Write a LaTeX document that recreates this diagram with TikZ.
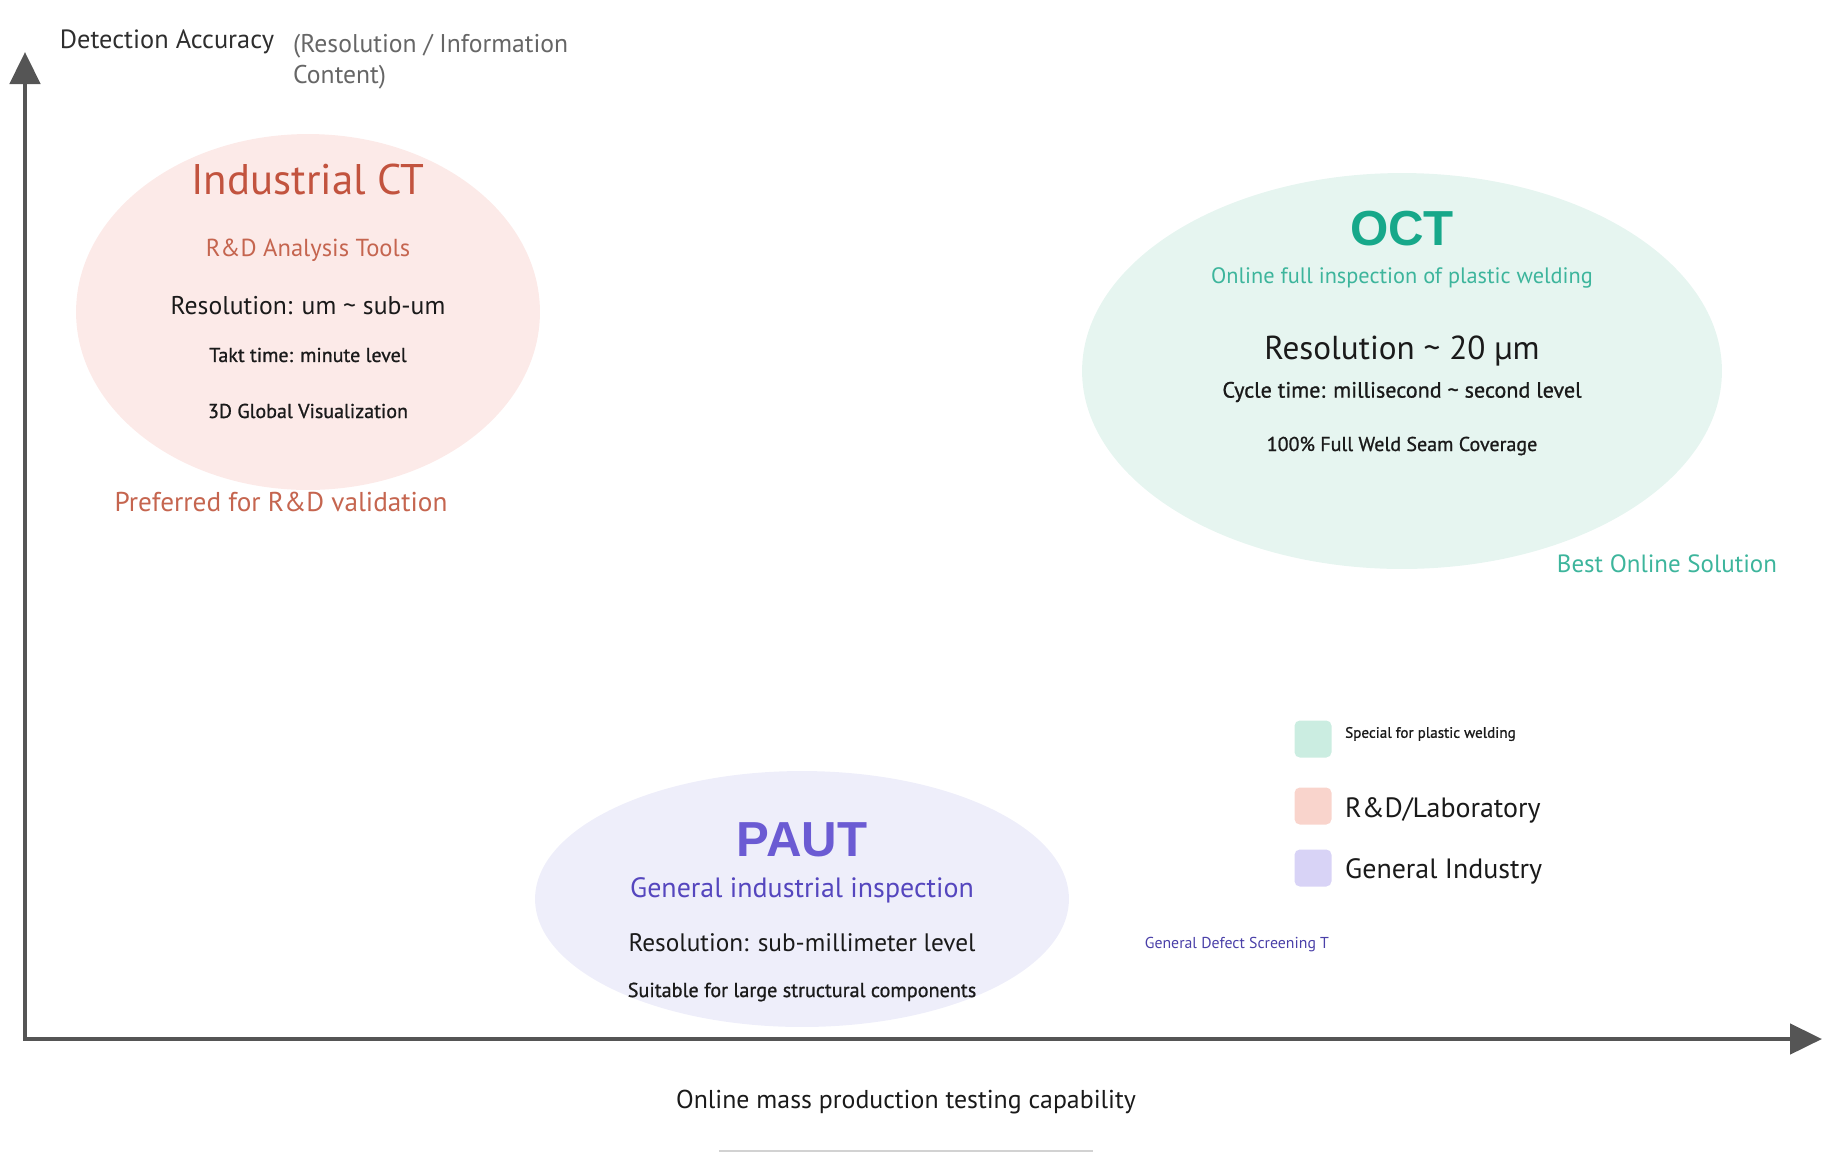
\documentclass[tikz,border=0pt]{standalone}
\usepackage{fontspec}
\setmainfont{PT Sans}
\newfontfamily\headfont{Liberation Sans}
\newfontfamily\semifont[FakeBold=0.9]{PT Sans}
\usetikzlibrary{arrows.meta, positioning, shapes.geometric}
\definecolor{axisGray}{HTML}{555555}
\definecolor{labelDark}{HTML}{2E2E2E}
\definecolor{labelGray}{HTML}{666666}
\definecolor{textDark}{HTML}{1A1A1A}
\definecolor{lineGray}{HTML}{D2D2D2}
\definecolor{ctRed}{HTML}{C2533E}
\definecolor{ctRedLight}{HTML}{C5654F}
\definecolor{ctFill}{HTML}{FCEAE8}
\definecolor{octTeal}{HTML}{17A88A}
\definecolor{octTealLight}{HTML}{3DB59C}
\definecolor{octFill}{HTML}{E6F5F0}
\definecolor{pautPurple}{HTML}{6B5BD3}
\definecolor{pautPurpleDark}{HTML}{5546BE}
\definecolor{pautFill}{HTML}{EEEEFA}
\definecolor{defectBlue}{HTML}{4A40A8}
\definecolor{legMint}{HTML}{CBEDE1}
\definecolor{legSalmon}{HTML}{F9D4CC}
\definecolor{legLavender}{HTML}{D8D3F6}
\tikzset{
  axisLine/.style={{Triangle[width=0.6cm, length=0.64cm]}-{Triangle[width=0.6cm, length=0.64cm]},
                   axisGray, line width=2.7pt},
  blob/.style={ellipse, inner sep=0pt, draw=none},
  techTitle/.style={font=\headfont\bfseries\fontsize{28}{32}\selectfont},
  legendBox/.style={rectangle, rounded corners=3pt, minimum size=0.74cm, inner sep=0pt},
  legendText/.style={text=textDark, inner sep=0pt},
}

\begin{document}
\begin{tikzpicture}[x=0.02cm, y=-0.02cm, font=\fontsize{14}{17}\selectfont]
    \useasboundingbox (0,0) rectangle (1831,1164);

    % Ejes
    \coordinate (origin) at (25,1039);
    \coordinate (yTop) at (25,52);
    \coordinate (xEnd) at (1822,1039);
    \draw[axisLine] (yTop) -- (origin) -- (xEnd);
    \node[text=labelDark, font=\fontsize{15}{18}\selectfont] (yLabel) at (167,42) {Detection Accuracy};
    \node[anchor=west, align=left, text=labelGray, font=\fontsize{14.6}{17.5}\selectfont] (yNote)
         at (287,62) {(Resolution / Information\\Content)};
    \node[text=textDark, font=\fontsize{14.7}{17}\selectfont] (xLabel) at (906,1102)
         {Online mass production testing capability};
    \draw[lineGray, line width=1.6pt] (719,1151) -- (1093,1151);

    % Industrial CT
    \node[blob, fill=ctFill, minimum width=9.28cm, minimum height=7.12cm] (ct) at (308,312) {};
    \node[font=\fontsize{24.4}{28}\selectfont, text=ctRed] (ctTitle) at ([yshift=2.66cm]ct.center) {Industrial CT};
    \node[font=\fontsize{14}{16}\selectfont, text=ctRedLight] at ([yshift=1.24cm]ct.center) {R\&D Analysis Tools};
    \node[font=\fontsize{14.6}{18}\selectfont, text=textDark] at ([yshift=0.12cm]ct.center) {Resolution: um \textasciitilde{} sub-um};
    \node[font=\semifont\fontsize{11.4}{14}\selectfont, text=textDark] at ([yshift=-0.86cm]ct.center) {Takt time: minute level};
    \node[font=\semifont\fontsize{11.4}{14}\selectfont, text=textDark] at ([yshift=-1.98cm]ct.center) {3D Global Visualization};
    \node[font=\fontsize{15.5}{18}\selectfont, text=ctRedLight] (ctNote)
         at ([xshift=-0.54cm, yshift=-3.8cm]ct.center) {Preferred for R\&D validation};

    % OCT
    \node[blob, fill=octFill, minimum width=12.8cm, minimum height=7.92cm] (oct) at (1402,371) {};
    \node[techTitle, text=octTeal] (octTitle) at ([yshift=2.84cm]oct.center) {OCT};
    \node[font=\fontsize{12.7}{15}\selectfont, text=octTealLight] at ([yshift=1.86cm]oct.center)
         {Online full inspection of plastic welding};
    \node[font=\fontsize{18.9}{22}\selectfont, text=textDark] at ([yshift=0.4cm]oct.center) {Resolution \textasciitilde{} 20 µm};
    \node[font=\semifont\fontsize{12.6}{16}\selectfont, text=textDark] at ([yshift=-0.42cm]oct.center)
         {Cycle time: millisecond \textasciitilde{} second level};
    \node[font=\semifont\fontsize{11.4}{14}\selectfont, text=textDark] at ([yshift=-1.5cm]oct.center)
         {100\% Full Weld Seam Coverage};
    \node[font=\fontsize{14.2}{17}\selectfont, text=octTealLight] (octNote)
         at ([xshift=5.3cm, yshift=-3.86cm]oct.center) {Best Online Solution};

    % PAUT
    \node[blob, fill=pautFill, minimum width=10.68cm, minimum height=5.12cm] (paut) at (802,899) {};
    \node[techTitle, text=pautPurple] (pautTitle) at ([yshift=1.18cm]paut.center) {PAUT};
    \node[font=\fontsize{15.9}{18}\selectfont, text=pautPurpleDark] at ([yshift=0.18cm]paut.center)
         {General industrial inspection};
    \node[font=\fontsize{14.4}{17}\selectfont, text=textDark] at ([yshift=-0.88cm]paut.center)
         {Resolution: sub-millimeter level};
    \node[font=\semifont\fontsize{11.5}{14}\selectfont, text=textDark] at ([yshift=-1.86cm]paut.center)
         {Suitable for large structural components};
    \node[font=\fontsize{9}{11}\selectfont, text=defectBlue] (pautNote)
         at ([xshift=8.7cm, yshift=-0.92cm]paut.center) {General Defect Screening T};

    % Leyenda
    \node[legendBox, fill=legMint] (legOct) at (1313,739) {};
    \node[legendText, right=0.26cm of legOct, yshift=0.1cm, font=\semifont\fontsize{8.6}{10}\selectfont] (legOctText)
         {Special for plastic welding};
    \node[legendBox, fill=legSalmon] (legCt) at (1313,806) {};
    \node[legendText, right=0.26cm of legCt, yshift=-0.08cm, font=\fontsize{15.9}{18}\selectfont] (legCtText)
         {R\&D/Laboratory};
    \node[legendBox, fill=legLavender] (legPaut) at (1313,868) {};
    \node[legendText, right=0.26cm of legPaut, yshift=-0.06cm, font=\fontsize{15.9}{18}\selectfont] (legPautText)
         {General Industry};
\end{tikzpicture}
\end{document}
